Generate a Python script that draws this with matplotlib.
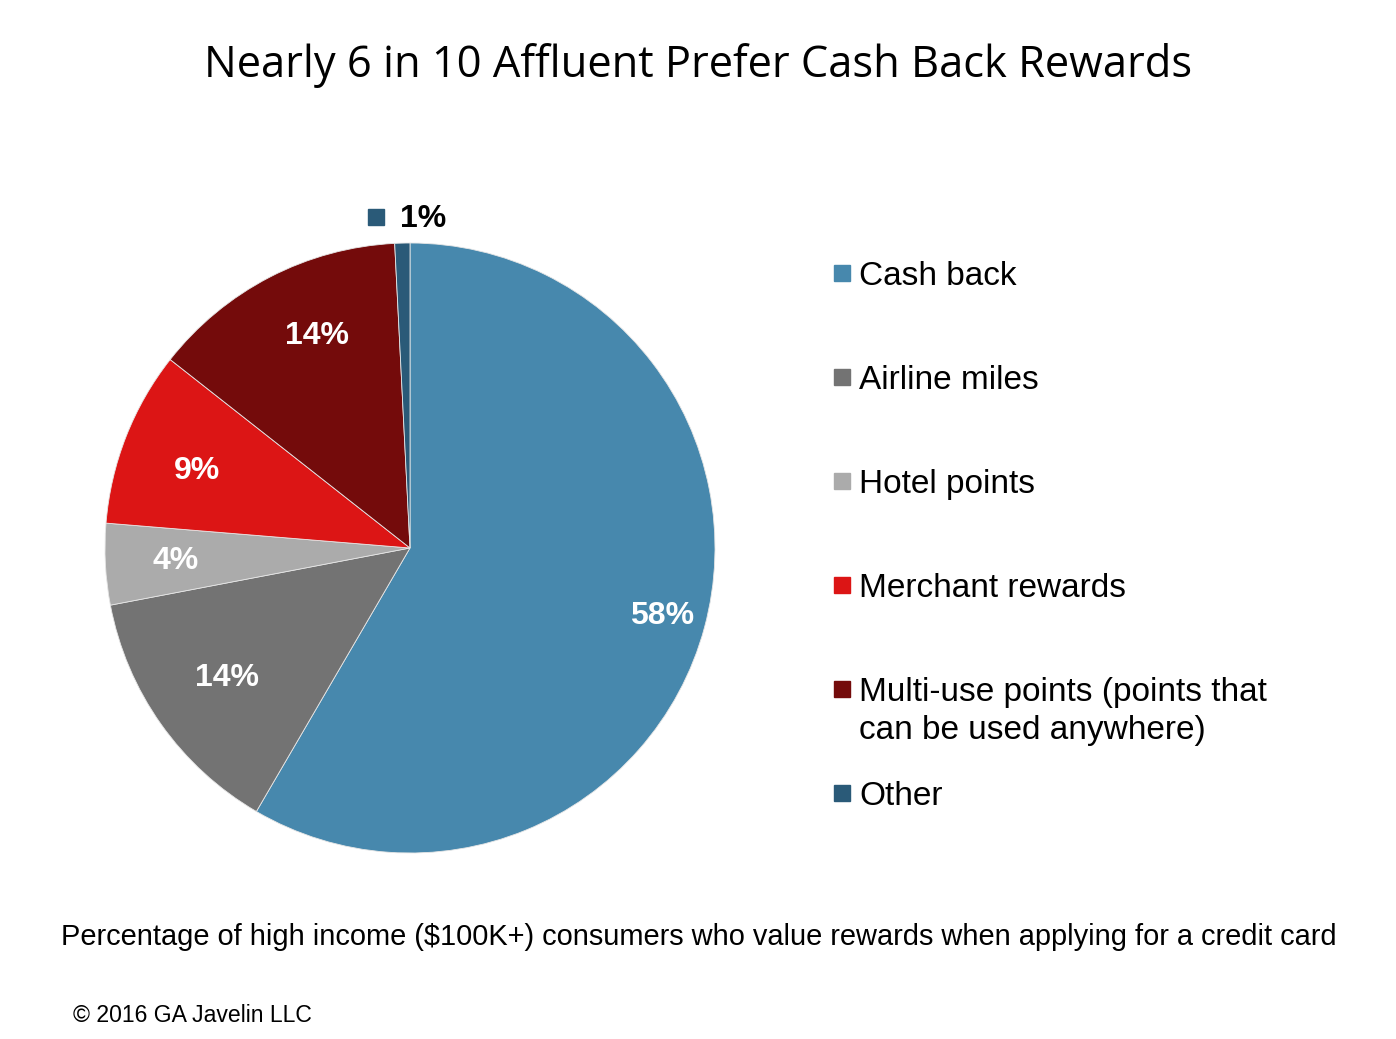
import matplotlib.pyplot as plt
from matplotlib.lines import Line2D

# ==========================================
# data
# ==========================================
categories = ["Cash back", "Airline miles", "Hotel points", "Merchant rewards",
              "Multi-use points (points that\ncan be used anywhere)", "Other"]
shares = [58.4, 13.6, 4.3, 9.3, 13.6, 0.8]
colors = ["#4788ad", "#737373", "#ababab", "#dc1515", "#740b0b", "#2a5a78"]

title = "Nearly 6 in 10 Affluent Prefer Cash Back Rewards"
subtitle = "Percentage of high income ($100K+) consumers who value rewards when applying for a credit card"
source = "\u00a9 2016 GA Javelin LLC"

W, H = 1396, 1039
fig = plt.figure(figsize=(W / 100, H / 100), dpi=100)

# pie axes: centre (410, 548), radius 305 px
cx, cy, r = 410, 548, 305
ax = fig.add_axes([(cx - r) / W, (H - cy - r) / H, 2 * r / W, 2 * r / H])
wedges, _, autotexts = ax.pie(
    shares, colors=colors, startangle=90, counterclock=False,
    autopct="%.0f%%", pctdistance=0.77, radius=1,
    wedgeprops=dict(edgecolor="#e6e6e6", linewidth=0.6),
    textprops=dict(color="white", fontsize=23, fontweight="bold", family="Liberation Sans"))
ax.set_xlim(-1, 1)
ax.set_ylim(-1, 1)
ax.set_aspect("equal")
ax.axis("off")

# nudge a few labels to where the original has them
def nudge(t, k=1.0, dx=0.0, dy=0.0):
    x, y = t.get_position()
    t.set_position((x * k + dx, y * k + dy))

nudge(autotexts[0], k=1.11)
nudge(autotexts[1], dx=0.03, dy=0.02)
nudge(autotexts[3], dx=0.02, dy=-0.03)
nudge(autotexts[4], dx=0.05, dy=0.01)
autotexts[5].set_visible(False)

# overlay in pixel coords
ov = fig.add_axes([0, 0, 1, 1])
ov.set_xlim(0, W)
ov.set_ylim(H, 0)
ov.axis("off")
ov.patch.set_alpha(0)

ov.text(698, 65, title, ha="center", va="center", fontsize=31.3, family="Open Sans")

# outside label for the small slice
ov.add_line(Line2D([376], [217], marker="s", markersize=11.5, color=colors[5], linestyle="none"))
ov.text(400, 219, autotexts[5].get_text(), ha="left", va="center", fontsize=23,
        fontweight="bold", family="Liberation Sans")

# legend
for i, (lab, col) in enumerate(zip(categories, colors)):
    y = 273 + 104 * i
    ov.add_line(Line2D([842], [y], marker="s", markersize=12, color=col, linestyle="none"))
    for j, line in enumerate(lab.split("\n")):
        ov.text(859, y + 12 + 38 * j, line, ha="left", va="baseline", fontsize=24,
                family="Liberation Sans")

ov.text(699, 937, subtitle, ha="center", va="center", fontsize=20.9, family="Liberation Sans")
ov.text(73, 1016, source, ha="left", va="center", fontsize=16.6, family="Liberation Sans")

fig.savefig("out.png", dpi=100)
